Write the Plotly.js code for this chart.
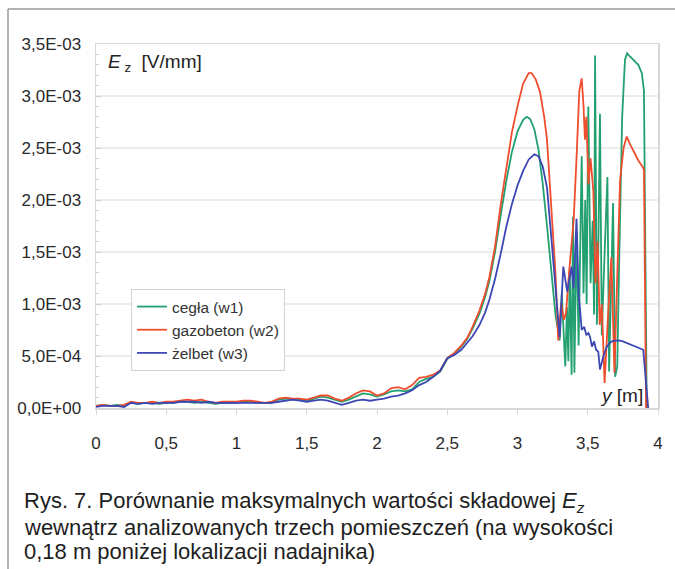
<!DOCTYPE html>
<html>
<head>
<meta charset="utf-8">
<script src="https://cdn.plot.ly/plotly-3.0.1.min.js"></script>
<style>
  html, body { margin: 0; padding: 0; background: #ffffff; }
  #chart { width: 675px; height: 569px; }
</style>
</head>
<body>
<div id="chart"></div>
<script>
// Positions along the room height (y [m]) shared by the smooth lower part of all three curves
const posLow = [0,0.05,0.1,0.15,0.2,0.25,0.3,0.35,0.4,0.45,0.5,0.55,0.6,0.65,0.7,0.75,0.8,0.85,0.9,0.95,
  1,1.05,1.1,1.15,1.2,1.25,1.3,1.35,1.4,1.45,1.5,1.55,1.6,1.65,1.7,1.75,1.8,1.85,1.9,1.95,
  2,2.05,2.1,2.15,2.2,2.25,2.3,2.35,2.4,2.45,2.5];

// Ez amplitudes below are given in units of 1e-4 V/mm

// cegła (w1)
const ceglaLow = [0.2,0.3,0.2,0.3,0.2,0.5,0.4,0.5,0.5,0.4,0.5,0.5,0.6,0.6,0.5,0.6,0.5,0.4,0.5,0.5,
  0.5,0.6,0.6,0.5,0.5,0.5,0.8,0.9,0.8,0.8,0.7,0.9,1.1,1.0,0.8,0.6,0.8,1.1,1.4,1.3,
  1.1,1.3,1.6,1.7,1.6,1.8,2.5,2.8,3.0,3.5,4.7];
const ceglaPos = [2.55,2.6,2.64,2.68,2.73,2.77,2.8,2.84,2.88,2.92,2.96,3,3.04,3.065,3.09,3.12,3.15,3.18,3.21,3.24,
  3.27,3.3,3.315,3.34,3.352,3.362,3.372,3.385,3.395,3.405,3.42,3.435,3.457,3.47,3.482,3.492,3.504,3.52,
  3.535,3.545,3.552,3.565,3.575,3.587,3.6,3.615,3.64,3.652,3.665,3.68,3.695,3.71,3.725,3.745,
  3.765,3.78,3.8,3.83,3.86,3.885,3.9,3.91,3.92];
const ceglaVal = [5.2,5.9,6.6,7.6,9.1,10.7,12.2,15.0,18.5,21.8,24.6,26.6,27.7,28.0,27.8,26.8,24.8,21.5,17.5,13.0,
  9.0,6.5,11.0,4.0,9.7,4.5,13.3,3.2,18.4,3.4,17.0,6.0,24.2,11.0,20.0,10.0,29.0,12.0,
  18.0,9.0,33.9,8.0,15.0,28.3,7.0,13.0,22.2,3.5,12.0,19.7,3.0,4.0,15.0,28.0,
  33.5,34.1,33.8,33.4,33.0,32.2,30.5,15.0,0];

// gazobeton (w2)
const gazoLow = [0.2,0.3,0.2,0.2,0.3,0.6,0.5,0.5,0.6,0.5,0.6,0.6,0.7,0.8,0.7,0.8,0.6,0.5,0.6,0.6,
  0.6,0.7,0.7,0.6,0.5,0.6,0.9,1.0,0.9,0.9,0.8,1.0,1.2,1.2,0.9,0.7,1.0,1.4,1.7,1.6,
  1.2,1.4,1.9,2.0,1.8,2.2,2.9,3.0,3.2,3.6,4.8];
const gazoPos = [2.55,2.6,2.64,2.68,2.73,2.77,2.8,2.84,2.88,2.92,2.96,3,3.04,3.08,3.1,3.13,3.16,3.19,3.21,3.24,
  3.27,3.29,3.31,3.33,3.345,3.37,3.4,3.42,3.44,3.457,3.47,3.48,3.49,3.505,3.52,3.54,3.555,3.57,
  3.585,3.6,3.62,3.645,3.668,3.69,3.71,3.73,3.755,3.777,3.8,3.83,3.86,3.89,3.9,3.915];
const gazoVal = [5.3,6.0,6.7,7.8,9.4,11.0,12.6,15.5,19.5,23.0,26.5,29.0,31.2,32.2,32.2,31.6,30.4,28.0,25.8,19.4,
  13.0,6.5,10.1,8.5,9.1,13.5,18.1,24.0,30.5,31.7,29.0,25.8,28.0,21.5,24.0,20.8,12.0,16.0,
  8.0,10.0,2.4,9.0,14.5,3.4,12.0,21.9,25.0,26.1,25.4,24.6,23.8,23.2,22.9,0];

// żelbet (w3)
const zelbetLow = [0.1,0.2,0.2,0.2,0.1,0.5,0.4,0.5,0.4,0.5,0.5,0.5,0.6,0.6,0.6,0.5,0.6,0.5,0.5,0.5,
  0.5,0.5,0.5,0.5,0.5,0.5,0.6,0.7,0.8,0.7,0.6,0.7,0.8,0.7,0.5,0.3,0.5,0.7,0.8,0.7,
  0.8,0.9,1.1,1.2,1.4,1.7,2.2,2.5,3.0,3.6,4.8];
const zelbetPos = [2.55,2.6,2.64,2.68,2.73,2.77,2.8,2.84,2.88,2.92,2.96,3,3.04,3.08,3.12,3.15,3.18,3.21,3.24,3.27,
  3.3,3.326,3.354,3.385,3.4,3.42,3.435,3.445,3.457,3.475,3.49,3.505,3.516,3.53,3.545,3.56,3.575,3.587,
  3.61,3.635,3.66,3.68,3.72,3.75,3.79,3.83,3.87,3.895,3.93];
const zelbetVal = [5.1,5.6,6.2,6.9,8.0,9.2,10.4,12.4,14.8,17.4,19.6,21.4,22.8,23.9,24.4,24.2,23.2,21.2,16.5,11.5,
  6.8,13.6,11.2,13.6,11.5,18.2,11.0,9.5,7.5,7.8,7.0,7.2,6.85,5.9,6.4,5.6,5.4,3.7,
  4.9,5.9,6.3,6.45,6.5,6.4,6.2,6.0,5.8,5.6,0];

const seriesNames = ['cegła (w1)', 'gazobeton (w2)', 'żelbet (w3)'];
const seriesColors = ['#23a070', '#ef4d2e', '#3c46b4'];

const xTickVals = [0, 0.5, 1, 1.5, 2, 2.5, 3, 3.5, 4];
const xTickText = ['0', '0,5', '1', '1,5', '2', '2,5', '3', '3,5', '4'];
const yTickVals = [0, 0.0005, 0.001, 0.0015, 0.002, 0.0025, 0.003, 0.0035];
const yTickText = ['0,0E+00', '5,0E-04', '1,0E-03', '1,5E-03', '2,0E-03', '2,5E-03', '3,0E-03', '3,5E-03'];

const UNIT = 1e-4; // stored amplitudes -> V/mm
const toVmm = arr => arr.map(v => v * UNIT);

const xs = [posLow.concat(ceglaPos), posLow.concat(gazoPos), posLow.concat(zelbetPos)];
const ys = [toVmm(ceglaLow.concat(ceglaVal)), toVmm(gazoLow.concat(gazoVal)), toVmm(zelbetLow.concat(zelbetVal))];

const traces = seriesNames.map((name, i) => ({
  type: 'scatter',
  mode: 'lines',
  name: name,
  x: xs[i],
  y: ys[i],
  line: { color: seriesColors[i], width: 1.8 },
  hoverinfo: 'x+y+name'
}));

const tickFont = { family: 'Liberation Sans, Arial, sans-serif', size: 17, color: '#2a2a2a' };
const frameColor = '#d8d8d8';

// plot-area pixel geometry, used to place the free-floating texts
const L = 96, T = 44, W = 562, H = 364;
const px = v => (v - L) / W;
const py = v => (T + H - v) / H;

const layout = {
  width: 675,
  height: 569,
  margin: { l: L, r: 675 - L - W, t: T, b: 569 - T - H, pad: 0 },
  paper_bgcolor: '#ffffff',
  plot_bgcolor: '#ffffff',
  showlegend: true,
  legend: {
    x: px(131), y: py(289), xanchor: 'left', yanchor: 'top',
    bgcolor: '#ffffff', bordercolor: '#d2d2d2', borderwidth: 1,
    font: { family: 'Liberation Sans, Arial, sans-serif', size: 15.5, color: '#333333' },
    tracegroupgap: 0
  },
  xaxis: {
    range: [0, 4],
    tickmode: 'array', tickvals: xTickVals, ticktext: xTickText,
    tickfont: tickFont,
    showgrid: false, zeroline: false,
    showline: true, mirror: true, linecolor: frameColor, linewidth: 1.5,
    ticks: 'outside', ticklen: 5, tickcolor: frameColor, tickwidth: 1,
    ticklabelstandoff: 14,
    fixedrange: true
  },
  yaxis: {
    range: [0, 0.0035],
    tickmode: 'array', tickvals: yTickVals, ticktext: yTickText,
    tickfont: tickFont,
    showgrid: true, gridcolor: '#ececec', gridwidth: 1.2, zeroline: false,
    showline: true, mirror: true, linecolor: frameColor, linewidth: 1.5,
    ticks: 'inside', ticklen: 5, tickcolor: '#cfcfcf',
    minor: { tick0: 0, dtick: 0.0001, ticks: 'inside', ticklen: 3, tickcolor: '#cfcfcf', showgrid: false },
    ticklabelstandoff: 10,
    fixedrange: true
  },
  annotations: [
    { xref: 'paper', yref: 'paper', x: px(106), y: py(63), xanchor: 'left', yanchor: 'middle', showarrow: false,
      text: '<i>E</i><sub> z</sub>  [V/mm]', font: { family: 'Liberation Sans, Arial, sans-serif', size: 19, color: '#222' } },
    { xref: 'paper', yref: 'paper', x: px(645), y: py(395), xanchor: 'right', yanchor: 'middle', showarrow: false,
      text: '<i>y</i> [m]', font: { family: 'Liberation Sans, Arial, sans-serif', size: 19, color: '#222' } },
    { xref: 'paper', yref: 'paper', x: px(22), y: py(502), xanchor: 'left', yanchor: 'middle', showarrow: false,
      text: 'Rys. 7. Porównanie maksymalnych wartości składowej <i>E<sub>z</sub></i>',
      font: { family: 'Liberation Sans, Arial, sans-serif', size: 22, color: '#1e1e1e' } },
    { xref: 'paper', yref: 'paper', x: px(22), y: py(527), xanchor: 'left', yanchor: 'middle', showarrow: false,
      text: 'wewnątrz analizowanych trzech pomieszczeń (na wysokości',
      font: { family: 'Liberation Sans, Arial, sans-serif', size: 22, color: '#1e1e1e' } },
    { xref: 'paper', yref: 'paper', x: px(22), y: py(551), xanchor: 'left', yanchor: 'middle', showarrow: false,
      text: '0,18 m poniżej lokalizacji nadajnika)',
      font: { family: 'Liberation Sans, Arial, sans-serif', size: 22, color: '#1e1e1e' } }
  ],
  shapes: [
    // outer frame of the figure (top and left edges)
    { type: 'line', xref: 'paper', yref: 'paper', x0: px(8), x1: px(690), y0: py(9), y1: py(9),
      line: { color: '#9a9a9a', width: 1.5 } },
    { type: 'line', xref: 'paper', yref: 'paper', x0: px(8), x1: px(8), y0: py(9), y1: py(580),
      line: { color: '#9a9a9a', width: 1.5 } }
  ]
};

Plotly.newPlot('chart', traces, layout, { displayModeBar: false, staticPlot: true });
</script>
</body>
</html>
